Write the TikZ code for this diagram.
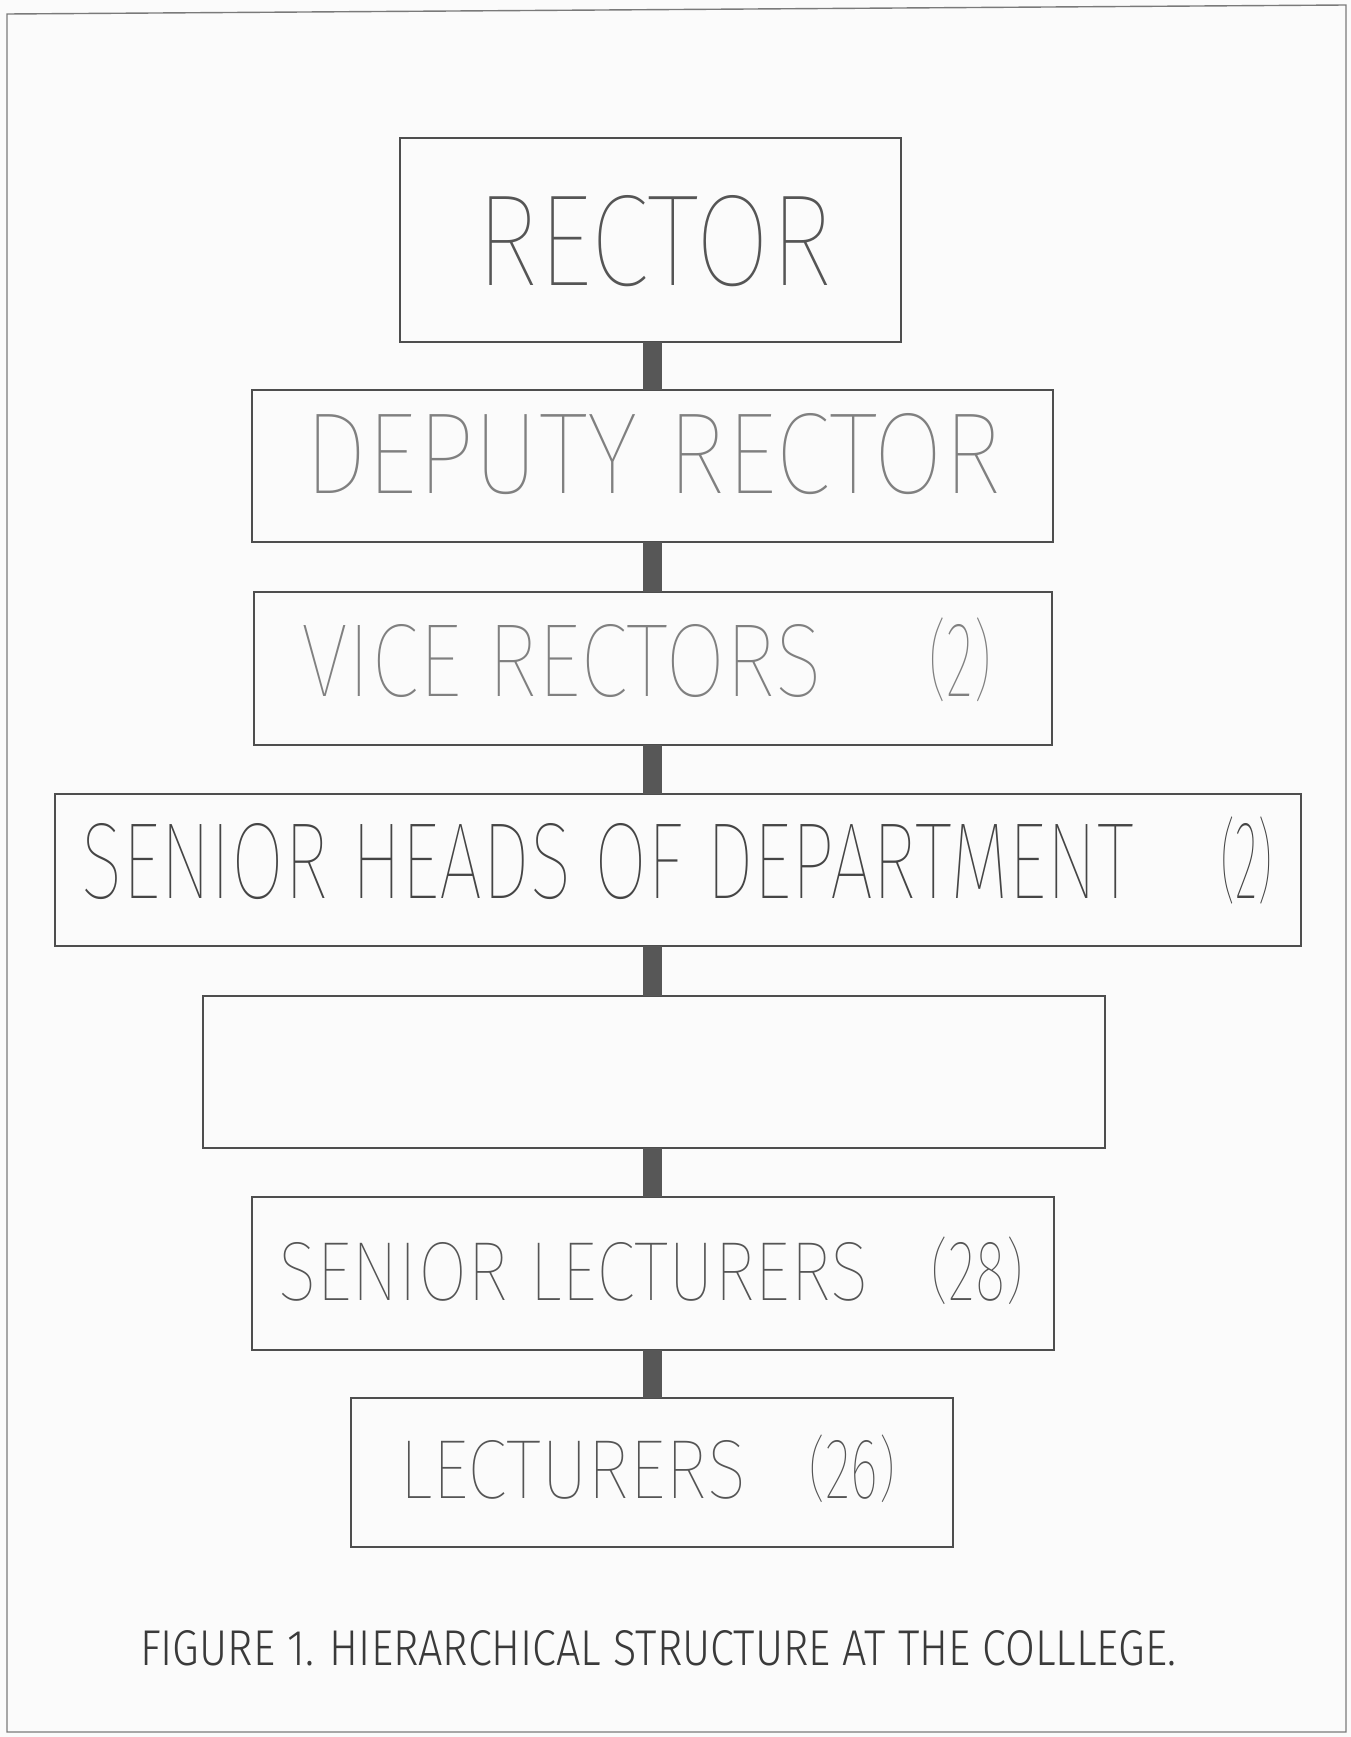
\documentclass[tikz,border=0pt]{standalone}
\usepackage{fontspec}
\usepackage{graphicx}
\setmainfont{Fira Sans Thin}
\newfontfamily\capfont{Fira Sans Light}
\definecolor{boxline}{HTML}{4E4E4E}
\definecolor{barcol}{HTML}{575757}
\definecolor{framecol}{HTML}{7A7A7A}
\definecolor{paper}{HTML}{FBFBFB}
\definecolor{txtmid}{HTML}{555555}
\definecolor{txtlight}{HTML}{808080}
\definecolor{txtdark}{HTML}{454545}
\definecolor{txtcap}{HTML}{3A3A3A}
\newcommand\fitt[3]{\resizebox{#1pt}{#2pt}{#3}}
\newcommand\pp[1]{\smash{\raisebox{0.05em}{\scalebox{1}[0.82]{#1}}}}
\newcommand\pars[1]{\pp{(}#1\pp{)}}
\begin{document}
\begin{tikzpicture}[x=1pt,y=-1pt,
  box/.style={draw=boxline, line width=1.3pt, rectangle, inner sep=0pt, outer sep=0pt},
  conn/.style={draw=barcol, line width=19pt},
  lbl/.style={inner sep=0pt, outer sep=0pt, anchor=base west},
  frame/.style={draw=framecol, line width=1.4pt}
]
\fill[paper] (0,0) rectangle (1351,1737);
\useasboundingbox (0,0) rectangle (1351,1737);
\draw[frame] (7,14) -- (1346,5) -- (1346,1732) -- (7,1732) -- cycle;

% boxes
\node[box, minimum width=501pt, minimum height=204pt] (rector)  at (650.5,240) {};
\node[box, minimum width=801pt, minimum height=152pt] (deputy)  at (652.5,466) {};
\node[box, minimum width=798pt, minimum height=153pt] (vice)    at (653,668.5) {};
\node[box, minimum width=1246pt, minimum height=152pt] (heads)  at (678,870) {};
\node[box, minimum width=902pt, minimum height=152pt] (empty)   at (654,1072) {};
\node[box, minimum width=802pt, minimum height=153pt] (senlect) at (653,1273.5) {};
\node[box, minimum width=602pt, minimum height=149pt] (lect)    at (652,1472.5) {};

% connectors
\coordinate (bar) at (652.5,0);
\draw[conn] (bar |- rector.south) -- (bar |- deputy.north);
\draw[conn] (bar |- deputy.south) -- (bar |- vice.north);
\draw[conn] (bar |- vice.south) -- (bar |- heads.north);
\draw[conn] (bar |- heads.south) -- (bar |- empty.north);
\draw[conn] (bar |- empty.south) -- (bar |- senlect.north);
\draw[conn] (bar |- senlect.south) -- (bar |- lect.north);

% texts
\node[lbl, text=txtmid] (t1) at (476,285) {\fitt{356}{90}{RECTOR}};
\node[lbl, text=txtlight] (t2) at (304,493) {\fitt{698}{80}{DEPUTY RECTOR}};
\node[lbl, text=txtlight] (t3) at (301,696) {\fitt{521}{72}{VICE RECTORS}\hspace{106pt}\fitt{64}{72}{\pars{2}}};
\node[lbl, text=txtdark] (t4) at (81,898) {\fitt{1053}{75}{SENIOR HEADS OF DEPARTMENT}\hspace{86pt}\fitt{53}{75}{\pars{2}}};
\node[lbl, text=txtmid] (t5) at (278,1300) {\fitt{591}{58}{SENIOR LECTURERS}\hspace{61pt}\fitt{94}{58}{\pars{28}}};
\node[lbl, text=txtmid] (t6) at (399,1498) {\fitt{347}{58}{LECTURERS}\hspace{62pt}\fitt{88}{58}{\pars{26}}};
\node[lbl, text=txtcap] (cap) at (140,1665) {\capfont\fitt{1036}{35}{FIGURE 1. HIERARCHICAL STRUCTURE AT THE COLLLEGE.}};
\end{tikzpicture}
\end{document}
